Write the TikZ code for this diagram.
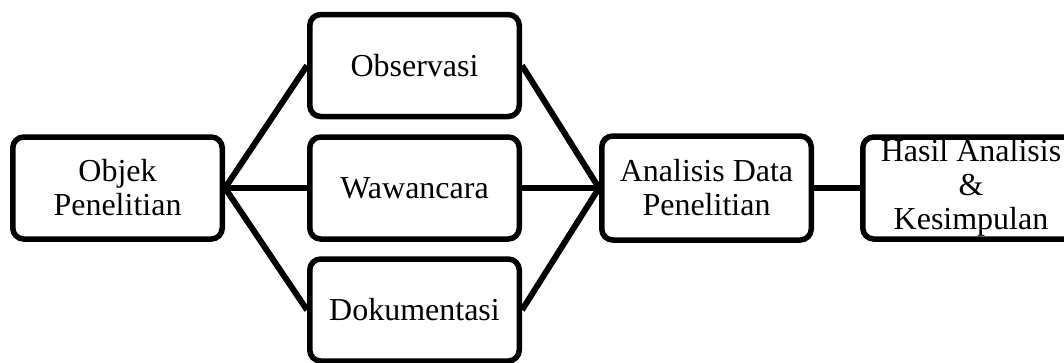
\documentclass[tikz,border=0pt]{standalone}
\usepackage{fontspec}
\setmainfont{Liberation Serif}
\begin{document}
\begin{tikzpicture}[x=1pt,y=-1pt,
  box/.style={draw=black, line width=5.5pt, rounded corners=11pt, fill=white,
    minimum width=209.5pt, minimum height=102pt, inner sep=0pt, align=center,
    font=\fontsize{32}{34}\selectfont},
  link/.style={line width=6pt, black}]
\useasboundingbox (0,0) rectangle (1064,362);
\node[box] (objek) at (117.5,188) {Objek\\Penelitian};
\node[box] (obs) at (414.5,65.5) {Observasi};
\node[box] (waw) at (414.5,188) {Wawancara};
\node[box] (dok) at (414.5,310) {Dokumentasi};
\node[box, minimum height=104pt] (ana) at (706.5,188) {Analisis Data\\Penelitian};
\node[box, minimum width=216.5pt] (has) at (971,188) {Hasil Analisis\\\&\\Kesimpulan};
\draw[link] (objek.east) -- (obs.west);
\draw[link] (objek.east) -- (waw.west);
\draw[link] (objek.east) -- (dok.west);
\draw[link] (obs.east) -- (ana.west);
\draw[link] (waw.east) -- (ana.west);
\draw[link] (dok.east) -- (ana.west);
\draw[link] (ana.east) -- (has.west);
\end{tikzpicture}
\end{document}
